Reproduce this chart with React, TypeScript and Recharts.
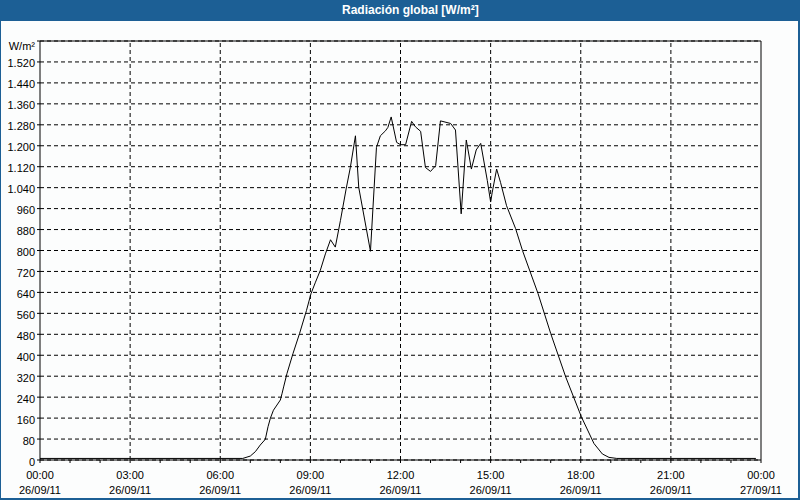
import {
  CartesianGrid,
  Line,
  LineChart,
  ReferenceLine,
  XAxis,
  YAxis,
} from "recharts"

// hora del día (0-24) y radiación global en W/m²
const hours = [
  0, 3, 6, 6.75, 7.0, 7.17, 7.33, 7.5, 7.59, 7.67, 7.77, 8.0, 8.06, 8.11, 8.22,
  8.42, 8.64, 8.87, 9.02, 9.17, 9.33, 9.5, 9.67, 9.83, 10.0, 10.19, 10.33, 10.5,
  10.61, 11.0, 11.2, 11.33, 11.5, 11.58, 11.69, 11.87, 12.0, 12.17, 12.37, 12.5,
  12.67, 12.83, 13.0, 13.17, 13.33, 13.67, 13.83, 14.02, 14.19, 14.36, 14.52,
  14.67, 14.89, 15.0, 15.05, 15.2, 15.33, 15.53, 15.83, 16.06, 16.58, 17.0,
  17.5, 18.02, 18.44, 18.72, 18.94, 19.2, 21, 23.83,
]
const radiation = [
  6, 6, 6, 6, 15, 32, 57, 79, 127, 160, 190, 229, 255, 279, 330, 406, 483, 571,
  635, 679, 724, 787, 841, 813, 914, 1035, 1117, 1238, 1041, 797, 1194, 1238,
  1257, 1270, 1310, 1213, 1204, 1204, 1293, 1272, 1255, 1117, 1102, 1124, 1295,
  1285, 1260, 940, 1222, 1111, 1184, 1209, 1067, 985, 1020, 1111, 1060, 971,
  884, 800, 635, 483, 317, 165, 63, 23, 10, 6, 6, 6,
]

const hourTicks = [
  0, 1, 2, 3, 4, 5, 6, 7, 8, 9, 10, 11, 12, 13, 14, 15, 16, 17, 18, 19, 20, 21,
  22, 23, 24,
]
const gridHours = [3, 6, 9, 12, 15, 18, 21]
const valueTicks = [
  0, 80, 160, 240, 320, 400, 480, 560, 640, 720, 800, 880, 960, 1040, 1120,
  1200, 1280, 1360, 1440, 1520, 1600,
]

const data = hours.map((h, i) => ({ h, v: radiation[i] }))

const FONT = "'Liberation Sans', Arial, sans-serif"

const fmtValue = (v: number) => {
  if (v >= 1000) return `${Math.floor(v / 1000)}.${String(v % 1000).padStart(3, "0")}`
  return `${v}`
}

const YTick = ({ x, y, payload }: any) => {
  const v = payload.value
  const top = v === 1600
  return (
    <text
      x={x}
      y={y}
      dy={top ? 9 : 5.5}
      textAnchor='end'
      fill='#000'
      fontSize={11}
      fontFamily={FONT}
    >
      {top ? "W/m²" : fmtValue(v)}
    </text>
  )
}

const XTick = ({ x, y, payload }: any) => {
  const h = payload.value
  if (h % 3 !== 0) return null
  const hh = String(h % 24).padStart(2, "0")
  const day = h === 24 ? "27/09/11" : "26/09/11"
  return (
    <text x={x} y={y} textAnchor='middle' fill='#000' fontSize={11} fontFamily={FONT}>
      <tspan x={x} dy={14}>{`${hh}:00`}</tspan>
      <tspan x={x} dy={15}>{day}</tspan>
    </text>
  )
}

export default function App() {
  return (
    <div
      style={{
        position: "absolute",
        top: 0,
        left: 0,
        width: 800,
        height: 500,
        background: "#fcfdfd",
        fontFamily: FONT,
      }}
    >
      <div
        style={{
          position: "absolute",
          inset: 0,
          boxSizing: "border-box",
          borderLeft: "1px solid #1c5f95",
          borderRight: "2px solid #1c5f95",
          borderBottom: "2px solid #1c5f95",
        }}
      />
      <div
        style={{
          position: "absolute",
          top: 0,
          left: 0,
          width: 800,
          height: 21,
          background: "#1c5f95",
          color: "#fff",
          fontWeight: "bold",
          fontSize: 12,
          lineHeight: "21px",
        }}
      >
        <span style={{ position: "absolute", left: 342, top: 0 }}>
          Radiación global [W/m²]
        </span>
      </div>
      <div style={{ position: "absolute", top: 0, left: 0 }}>
        <LineChart
          width={800}
          height={500}
          data={data}
          margin={{ top: 41, right: 39, bottom: 6, left: 0 }}
        >
          <CartesianGrid vertical={false} stroke='#000' strokeDasharray='4 3' />
          {gridHours.map((g) => (
            <ReferenceLine key={g} x={g} stroke='#000' strokeDasharray='4 3' />
          ))}
          <ReferenceLine y={1600} stroke='#000' />
          <ReferenceLine x={24} stroke='#000' />
          <XAxis
            dataKey='h'
            type='number'
            domain={[0, 24]}
            ticks={hourTicks}
            interval={0}
            height={34}
            tickSize={3}
            tickMargin={2}
            stroke='#000'
            tick={<XTick />}
          />
          <YAxis
            type='number'
            domain={[0, 1600]}
            ticks={valueTicks}
            interval={0}
            width={40}
            tickSize={3}
            tickMargin={2}
            stroke='#000'
            tick={<YTick />}
          />
          <Line
            type='linear'
            dataKey='v'
            stroke='#000'
            strokeWidth={1}
            dot={false}
            isAnimationActive={false}
          />
        </LineChart>
      </div>
    </div>
  )
}
